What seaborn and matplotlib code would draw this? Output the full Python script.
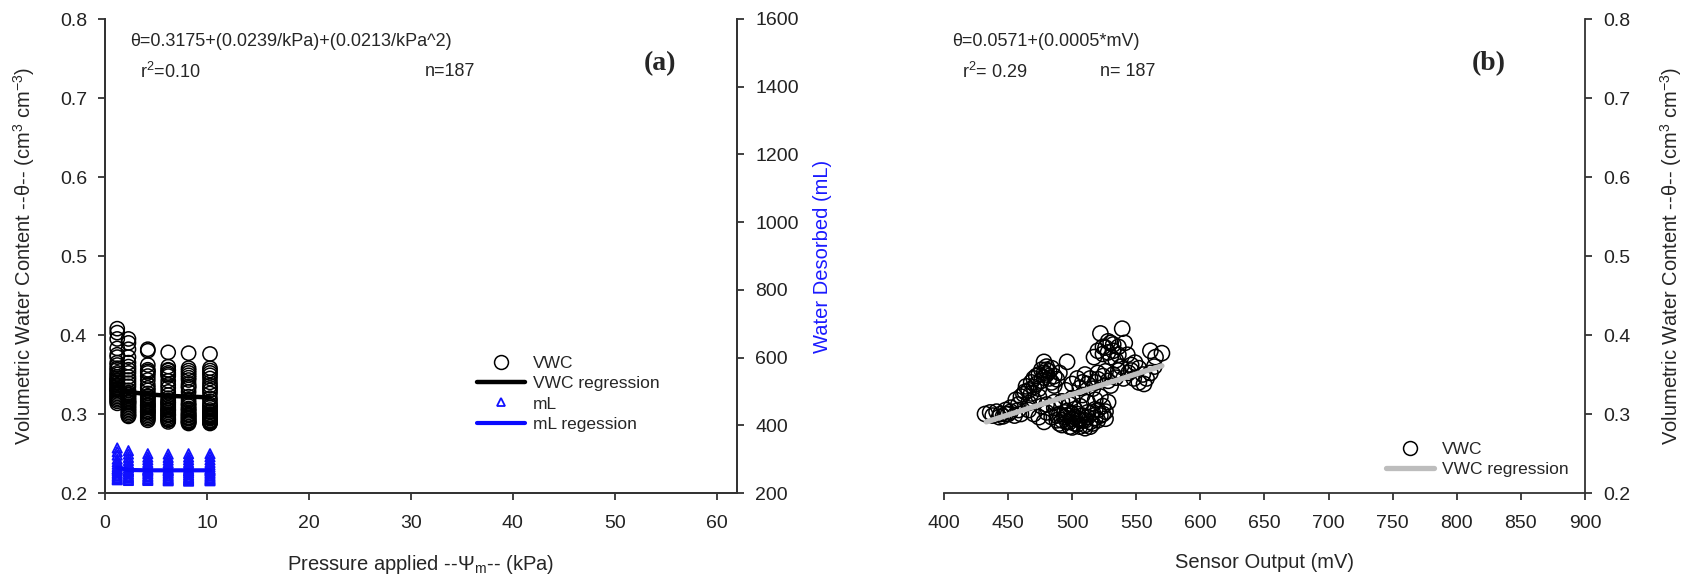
import matplotlib
matplotlib.use("Agg")
import matplotlib.pyplot as plt
from matplotlib.lines import Line2D
import seaborn as sns
import pandas as pd

# ---------------- data ----------------
pressure_levels = [1.2, 2.3, 4.2, 6.2, 8.2, 10.3]

vwc_p1 = [0.408, 0.403, 0.395, 0.383, 0.375, 0.372, 0.365, 0.362, 0.358, 0.356, 0.352, 0.350,
          0.347, 0.345, 0.343, 0.340, 0.339, 0.336, 0.334, 0.332, 0.330, 0.328, 0.326, 0.324,
          0.322, 0.320, 0.318, 0.316, 0.3135, 0.342, 0.337, 0.331]
vwc_p2 = [0.395, 0.390, 0.382, 0.372, 0.365, 0.360, 0.356, 0.352, 0.347, 0.343, 0.339, 0.335,
          0.330, 0.327, 0.324, 0.322, 0.320, 0.318, 0.316, 0.314, 0.312, 0.310, 0.308, 0.306,
          0.304, 0.302, 0.300, 0.298, 0.297, 0.325, 0.315]
vwc_p3 = [0.382, 0.380, 0.362, 0.356, 0.352, 0.348, 0.343, 0.337, 0.333, 0.330, 0.326, 0.323,
          0.320, 0.318, 0.316, 0.314, 0.312, 0.310, 0.308, 0.306, 0.304, 0.302, 0.300, 0.298,
          0.296, 0.294, 0.292, 0.354, 0.322, 0.311, 0.303]
vwc_p4 = [0.378, 0.360, 0.356, 0.352, 0.348, 0.342, 0.337, 0.333, 0.328, 0.324, 0.320, 0.317,
          0.314, 0.312, 0.310, 0.308, 0.306, 0.304, 0.302, 0.300, 0.298, 0.296, 0.294, 0.292,
          0.290, 0.355, 0.350, 0.315, 0.305, 0.299, 0.293]
vwc_p5 = [0.377, 0.358, 0.352, 0.349, 0.343, 0.338, 0.333, 0.328, 0.322, 0.318, 0.314, 0.310,
          0.307, 0.304, 0.302, 0.300, 0.298, 0.296, 0.294, 0.292, 0.290, 0.288, 0.355, 0.346,
          0.335, 0.312, 0.306, 0.299, 0.295, 0.291, 0.289]
vwc_p6 = [0.376, 0.358, 0.352, 0.349, 0.340, 0.333, 0.330, 0.326, 0.320, 0.316, 0.312, 0.308,
          0.305, 0.302, 0.300, 0.298, 0.296, 0.294, 0.292, 0.290, 0.288, 0.355, 0.345, 0.336,
          0.310, 0.303, 0.299, 0.295, 0.291, 0.289, 0.297]
vwc_groups = [vwc_p1, vwc_p2, vwc_p3, vwc_p4, vwc_p5, vwc_p6]
vwc_fit_pressure = [0.336, 0.328, 0.325, 0.323, 0.322, 0.321]

ml_p1 = [333, 322, 312, 300, 292, 285, 278, 272, 266, 260, 255, 250, 246, 242, 239, 270]
ml_p2 = [325, 315, 305, 296, 288, 280, 274, 268, 262, 257, 252, 248, 244, 240, 237, 266]
ml_p3 = [316, 306, 298, 290, 283, 277, 271, 266, 261, 256, 251, 247, 243, 240, 237, 268]
ml_p4 = [315, 305, 297, 289, 282, 276, 270, 265, 260, 255, 250, 246, 242, 239, 236, 267]
ml_p5 = [316, 306, 298, 290, 283, 276, 270, 264, 259, 254, 249, 245, 241, 238, 235, 266]
ml_p6 = [316, 307, 298, 290, 283, 277, 271, 265, 260, 255, 250, 246, 242, 239, 236, 268]
ml_groups = [ml_p1, ml_p2, ml_p3, ml_p4, ml_p5, ml_p6]
ml_fit = [275, 268, 267, 267, 267, 267]

sensor_mv = [432, 436, 438, 441, 444, 446, 448, 450, 443, 452, 455, 458, 460,
             456, 460, 463, 466, 468, 470, 472, 474, 476, 478, 480, 482, 480, 478, 484, 486,
             488, 476, 472, 468, 464, 484, 496, 490, 474, 470, 466,
             466, 470, 474, 478, 480, 484, 486, 488, 490, 492, 494, 496, 498, 500, 502, 504,
             506, 508, 510, 512, 514, 516, 518, 520, 522, 524, 526, 500, 504, 510, 496, 506,
             512, 518, 522, 528, 498, 492, 486, 480, 476, 500, 508,
             495, 500, 504, 508, 510, 514, 518, 520, 524, 528, 532, 536, 540, 544, 538, 530,
             516, 506,
             517, 520, 522, 524, 526, 528, 530, 532, 536, 539, 541, 543, 534,
             546, 549, 552, 548, 552, 556, 558, 561, 561, 565, 570, 564, 555,
             488, 492, 496, 498, 502, 506, 508, 510, 514, 516, 518, 520, 524, 526, 502, 494,
             490, 512, 504, 500,
             470, 474, 478, 480, 482, 486, 462, 458, 452, 448,
             524, 528, 532, 536, 530,
             512, 520, 526, 534, 546]
sensor_vwc = [0.300, 0.302, 0.298, 0.303, 0.300, 0.297, 0.305, 0.300, 0.296, 0.303, 0.298, 0.305, 0.300,
              0.318, 0.322, 0.328, 0.330, 0.326, 0.334, 0.338, 0.332, 0.342, 0.346, 0.350, 0.354,
              0.360, 0.366, 0.358, 0.348, 0.344, 0.356, 0.348, 0.340, 0.335, 0.340, 0.366, 0.352,
              0.322, 0.318, 0.314,
              0.305, 0.300, 0.296, 0.290, 0.302, 0.296, 0.308, 0.292, 0.300, 0.286, 0.296, 0.290,
              0.284, 0.294, 0.288, 0.300, 0.284, 0.292, 0.286, 0.296, 0.290, 0.302, 0.295, 0.305,
              0.298, 0.310, 0.303, 0.283, 0.287, 0.282, 0.304, 0.310, 0.315, 0.318, 0.322, 0.315,
              0.312, 0.316, 0.315, 0.312, 0.310, 0.320, 0.324,
              0.330, 0.338, 0.345, 0.340, 0.350, 0.345, 0.340, 0.352, 0.348, 0.342, 0.350, 0.355,
              0.345, 0.352, 0.360, 0.336, 0.332, 0.333,
              0.372, 0.380, 0.402, 0.376, 0.384, 0.378, 0.372, 0.388, 0.385, 0.408, 0.390, 0.375,
              0.368,
              0.362, 0.365, 0.358, 0.345, 0.340, 0.338, 0.345, 0.352, 0.380, 0.372, 0.377, 0.360,
              0.350,
              0.298, 0.292, 0.298, 0.290, 0.296, 0.292, 0.298, 0.292, 0.284, 0.288, 0.306, 0.292,
              0.300, 0.294, 0.306, 0.302, 0.288, 0.302, 0.294, 0.300,
              0.345, 0.350, 0.352, 0.356, 0.345, 0.336, 0.325, 0.312, 0.308, 0.300,
              0.385, 0.392, 0.380, 0.375, 0.390,
              0.338, 0.344, 0.354, 0.346, 0.355]
sensor_fit_mv = [433, 570]
sensor_fit_vwc = [0.290, 0.361]

# ---------------- tables ----------------
df_vwc = pd.DataFrame({
    "kPa": [p for p, g in zip(pressure_levels, vwc_groups) for _ in g],
    "vwc": [v for g in vwc_groups for v in g]})
df_ml = pd.DataFrame({
    "kPa": [p for p, g in zip(pressure_levels, ml_groups) for _ in g],
    "ml": [v for g in ml_groups for v in g]})
df_fit = pd.DataFrame({"kPa": pressure_levels, "vwc": vwc_fit_pressure, "ml": ml_fit})
df_sensor = pd.DataFrame({"mV": sensor_mv, "vwc": sensor_vwc})
df_sfit = pd.DataFrame({"mV": sensor_fit_mv, "vwc": sensor_fit_vwc})

# ---------------- style ----------------
sns.set_style("ticks")
plt.rcParams["font.family"] = ["Liberation Sans", "DejaVu Sans"]
plt.rcParams["mathtext.fontset"] = "custom"
plt.rcParams["mathtext.rm"] = "Liberation Sans"
plt.rcParams["mathtext.it"] = "Liberation Sans:italic"
plt.rcParams["axes.edgecolor"] = "#333333"
plt.rcParams["axes.linewidth"] = 1.3
plt.rcParams["xtick.major.width"] = 1.3
plt.rcParams["ytick.major.width"] = 1.3
plt.rcParams["xtick.major.size"] = 5
plt.rcParams["ytick.major.size"] = 5
plt.rcParams["xtick.color"] = "#333333"
plt.rcParams["ytick.color"] = "#333333"
plt.rcParams["xtick.labelcolor"] = "#222222"
plt.rcParams["ytick.labelcolor"] = "#222222"

W, H = 1690, 583
fig = plt.figure(figsize=(W / 100, H / 100), dpi=100)

def fx(px):
    return px / W

def fy(py):
    return 1 - py / H

TICK_FS = 14
LAB_FS = 14.5
TXT_FS = 13

# ---------------- panel (a) ----------------
ax1 = fig.add_axes([fx(105), fy(493), fx(737 - 105), (493 - 19) / H])
sns.scatterplot(data=df_vwc, x="kPa", y="vwc", ax=ax1, marker="o", s=105,
                facecolor="none", edgecolor="black", linewidth=1.1, zorder=3)
sns.lineplot(data=df_fit, x="kPa", y="vwc", ax=ax1, color="black", linewidth=3.2, zorder=4)
ax1.set_xlim(0, 62)
ax1.set_ylim(0.2, 0.8)
ax1.set_xticks([0, 10, 20, 30, 40, 50, 60])
ax1.set_yticks([0.2, 0.3, 0.4, 0.5, 0.6, 0.7, 0.8])
ax1.set_yticklabels(["0.2", "0.3", "0.4", "0.5", "0.6", "0.7", "0.8"])
ax1.tick_params(axis="x", labelsize=TICK_FS, pad=11)
ax1.tick_params(axis="y", labelsize=TICK_FS, pad=8)
ax1.set_xlabel("Pressure applied --\u03a8$_{\\mathrm{m}}$-- (kPa)", fontsize=LAB_FS, labelpad=15)
ax1.set_ylabel("Volumetric Water Content --\u03b8-- (cm$^{3}$ cm$^{-3}$)", fontsize=LAB_FS, labelpad=16)
ax1.spines["top"].set_visible(False)

ax1r = ax1.twinx()
sns.scatterplot(data=df_ml, x="kPa", y="ml", ax=ax1r, marker="^", s=45,
                facecolor="none", edgecolor="#1010ff", linewidth=1.3, zorder=3)
sns.lineplot(data=df_fit, x="kPa", y="ml", ax=ax1r, color="#0a0aff", linewidth=3.0, zorder=4)
ax1r.set_ylim(200, 1600)
ax1r.set_yticks([200, 400, 600, 800, 1000, 1200, 1400, 1600])
ax1r.tick_params(labelsize=TICK_FS, pad=8)
ax1r.set_ylabel("Water Desorbed (mL)", fontsize=LAB_FS, color="#1a1aff", labelpad=10)
ax1r.spines["top"].set_visible(False)
ax1r.set_xlabel("")

handles_a = [
    Line2D([], [], marker="o", linestyle="none", markerfacecolor="none",
           markeredgecolor="black", markersize=10, markeredgewidth=1.1),
    Line2D([], [], color="black", linewidth=3.2),
    Line2D([], [], marker="^", linestyle="none", markerfacecolor="none",
           markeredgecolor="#1010ff", markersize=6, markeredgewidth=1.3),
    Line2D([], [], color="#0a0aff", linewidth=3.0),
]
ax1r.legend(handles_a, ["VWC", "VWC regression", "mL", "mL regession"],
            loc="upper left", bbox_to_anchor=(fx(468), fy(347)), bbox_transform=fig.transFigure,
            frameon=False, fontsize=12.5, handlelength=2.8, handletextpad=0.45,
            labelspacing=0.3, borderpad=0)

fig.text(fx(130), fy(41), "\u03b8=0.3175+(0.0239/kPa)+(0.0213/kPa^2)", fontsize=TXT_FS, va="center")
fig.text(fx(140), fy(72), "r$^{2}$=0.10", fontsize=TXT_FS, va="center")
fig.text(fx(425), fy(72), "n=187", fontsize=TXT_FS, va="center")
fig.text(fx(644), fy(64), "(a)", fontsize=20, fontweight="bold", va="center",
         family=["Liberation Serif", "DejaVu Serif"])

# ---------------- panel (b) ----------------
ax2 = fig.add_axes([fx(944), fy(493), fx(1585 - 944), (493 - 19) / H])
sns.scatterplot(data=df_sensor, x="mV", y="vwc", ax=ax2, marker="o", s=120,
                facecolor="none", edgecolor="black", linewidth=1.1, zorder=3)
sns.lineplot(data=df_sfit, x="mV", y="vwc", ax=ax2, color="#bdbdbd", linewidth=3.8, zorder=4)
ax2.set_xlim(400, 900)
ax2.set_ylim(0.2, 0.8)
ax2.set_xticks(list(range(400, 901, 50)))
ax2.set_yticks([0.2, 0.3, 0.4, 0.5, 0.6, 0.7, 0.8])
ax2.set_yticklabels(["0.2", "0.3", "0.4", "0.5", "0.6", "0.7", "0.8"])
ax2.yaxis.tick_right()
ax2.yaxis.set_label_position("right")
ax2.spines["top"].set_visible(False)
ax2.spines["left"].set_visible(False)
ax2.spines["right"].set_visible(True)
ax2.tick_params(axis="x", labelsize=TICK_FS, pad=11)
ax2.tick_params(axis="y", labelsize=TICK_FS, pad=8)
ax2.set_xlabel("Sensor Output (mV)", fontsize=LAB_FS, labelpad=15)
ax2.set_ylabel("Volumetric Water Content --\u03b8-- (cm$^{3}$ cm$^{-3}$)", fontsize=LAB_FS, labelpad=20)

handles_b = [
    Line2D([], [], marker="o", linestyle="none", markerfacecolor="none",
           markeredgecolor="black", markersize=10, markeredgewidth=1.1),
    Line2D([], [], color="#bdbdbd", linewidth=3.8),
]
ax2.legend(handles_b, ["VWC", "VWC regression"],
           loc="upper left", bbox_to_anchor=(fx(1377), fy(433)), bbox_transform=fig.transFigure,
           frameon=False, fontsize=12.5, handlelength=2.8, handletextpad=0.45,
           labelspacing=0.3, borderpad=0)

fig.text(fx(952), fy(41), "\u03b8=0.0571+(0.0005*mV)", fontsize=TXT_FS, va="center")
fig.text(fx(962), fy(72), "r$^{2}$= 0.29", fontsize=TXT_FS, va="center")
fig.text(fx(1100), fy(72), "n= 187", fontsize=TXT_FS, va="center")
fig.text(fx(1472), fy(64), "(b)", fontsize=20, fontweight="bold", va="center",
         family=["Liberation Serif", "DejaVu Serif"])

fig.savefig("out.png", dpi=100)
